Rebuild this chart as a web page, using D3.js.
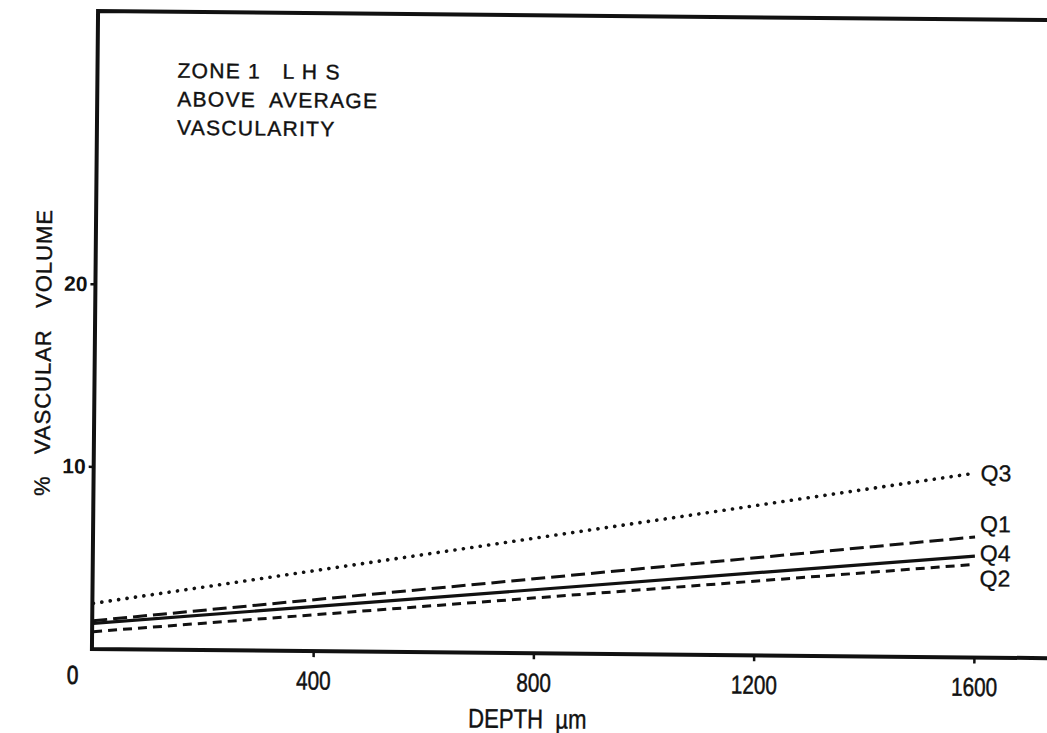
<!DOCTYPE html>
<html>
<head>
<meta charset="utf-8">
<script src="https://cdn.jsdelivr.net/npm/d3@7"></script>
<style>
  body { margin: 0; background: #fff; }
  text { fill: #111; white-space: pre; }
</style>
</head>
<body>
<div id="chart"></div>
<script>
// data
var depths = [0, 1600];
var q1 = [1.55, 6.6];
var q2 = [0.95, 5.1];
var q3 = [2.5, 10.1];
var q4 = [1.4, 5.55];
var xTicks = [400, 800, 1200, 1600];
var yTicks = [10, 20];
var noteLines = ["ZONE 1   L H S", "ABOVE  AVERAGE", "VASCULARITY"];

var svgWidth = 1047;
var svgHeight = 733;

var svg = d3.select("#chart").append("svg")
  .attr("width", svgWidth)
  .attr("height", svgHeight);

// the scan is tilted a little, so tilt the whole drawing too
var g = svg.append("g").attr("transform", "rotate(0.55, 95, 330)");

var xScale = d3.scaleLinear().domain([0, 1600]).range([96, 977]);
var yScale = d3.scaleLinear().domain([0, 35]).range([649, 10]);

// frame (open on the right, runs off the page)
g.append("path")
  .attr("d", "M1070,11 L95,11 L95,649 L1070,649")
  .attr("fill", "none")
  .attr("stroke", "#111")
  .attr("stroke-width", 4);

// axes
var bottomAxis = d3.axisBottom(xScale).tickValues(xTicks).tickFormat(d3.format("d"))
  .tickSize(6).tickPadding(14);
var leftAxis = d3.axisLeft(yScale).tickValues(yTicks).tickSize(5).tickPadding(3);

var xAxisG = g.append("g").attr("transform", "translate(0,649)").call(bottomAxis);
var yAxisG = g.append("g").attr("transform", "translate(95,0)").call(leftAxis);

[xAxisG, yAxisG].forEach(function (a) {
  a.select(".domain").remove();
  a.selectAll("line").attr("stroke", "#111").attr("stroke-width", 2.5);
});
// condensed look: squeeze the glyphs sideways
xAxisG.selectAll("text")
  .attr("font-family", "'Liberation Sans', Arial, sans-serif")
  .attr("font-size", 26)
  .attr("transform", "scale(0.8,1)")
  .attr("stroke", "#111")
  .attr("stroke-width", 0.5)
  .style("fill", "#111");
yAxisG.selectAll("text")
  .attr("font-family", "'Liberation Sans', Arial, sans-serif")
  .attr("font-size", 21)
  .attr("font-weight", "bold")
  .style("fill", "#111");

// shared origin label
g.append("g").attr("transform", "translate(76,684)")
  .append("text")
  .attr("transform", "scale(0.8,1)")
  .attr("text-anchor", "middle")
  .attr("font-family", "'Liberation Sans', sans-serif")
  .attr("font-size", 26)
  .attr("stroke", "#111")
  .attr("stroke-width", 0.8)
  .text("0");

// axis titles
g.append("g").attr("transform", "translate(531,724)")
  .append("text")
  .attr("transform", "scale(0.82,1)")
  .attr("text-anchor", "middle")
  .attr("font-family", "'Liberation Sans', sans-serif")
  .attr("font-size", 27)
  .attr("stroke", "#111")
  .attr("stroke-width", 0.4)
  .text("DEPTH  \u00b5m");

g.append("text")
  .attr("transform", "translate(51,353) rotate(-90)")
  .attr("text-anchor", "middle")
  .attr("font-family", "'Liberation Sans', Arial, sans-serif")
  .attr("font-size", 22)
  .attr("letter-spacing", 1)
  .attr("stroke", "#111")
  .attr("stroke-width", 0.4)
  .text("%   VASCULAR   VOLUME");

// annotation block
g.selectAll(".note").data(noteLines).enter().append("text")
  .attr("class", "note")
  .attr("x", 175)
  .attr("y", function (d, i) { return 77 + i * 28.5; })
  .attr("font-family", "'Liberation Sans', Arial, sans-serif")
  .attr("font-size", 21)
  .attr("letter-spacing", 1.3)
  .attr("stroke", "#111")
  .attr("stroke-width", 0.4)
  .text(function (d) { return d; });

// regression lines
var series = [
  { name: "Q3", values: q3, dash: "0.1 8.4", width: 3.6, cap: "round", labelDy: 0 },
  { name: "Q1", values: q1, dash: "14 6", width: 3, cap: "butt", labelDy: -13 },
  { name: "Q4", values: q4, dash: null, width: 3.2, cap: "butt", labelDy: -3 },
  { name: "Q2", values: q2, dash: "9 6", width: 3, cap: "butt", labelDy: 14 }
];

var line = d3.line()
  .x(function (d) { return xScale(d[0]); })
  .y(function (d) { return yScale(d[1]); });

series.forEach(function (s) {
  var pts = depths.map(function (d, i) { return [d, s.values[i]]; });
  g.append("path")
    .datum(pts)
    .attr("d", line)
    .attr("fill", "none")
    .attr("stroke", "#111")
    .attr("stroke-width", s.width)
    .attr("stroke-linecap", s.cap)
    .attr("stroke-dasharray", s.dash);

  g.append("text")
    .attr("x", xScale(1600) + 5)
    .attr("y", yScale(s.values[1]) + s.labelDy)
    .attr("dy", "0.35em")
    .attr("font-family", "'Liberation Sans', Arial, sans-serif")
    .attr("font-size", 23)
    .attr("stroke", "#111")
    .attr("stroke-width", 0.3)
    .text(s.name);
});
</script>
</body>
</html>
